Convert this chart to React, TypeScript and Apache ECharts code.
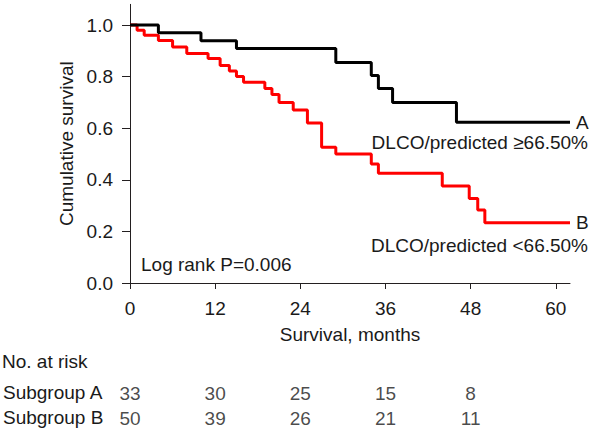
import React, { useEffect, useRef } from "react";
import * as echarts from "echarts";

// Kaplan-Meier steps: [month, cumulative survival]
const groupA: [number, number][] = [
  [0, 1.0], [4, 0.970], [10, 0.939], [15, 0.909], [29, 0.855],
  [34, 0.804], [35, 0.754], [37, 0.700], [46, 0.623], [62, 0.623],
];
const groupB: [number, number][] = [
  [0, 1.0], [1, 0.98], [2, 0.96], [4, 0.94], [6, 0.915], [8, 0.89],
  [11, 0.87], [12.7, 0.843], [14, 0.822], [15, 0.80], [16, 0.778],
  [19, 0.754], [20, 0.731], [21, 0.70], [23, 0.671], [25, 0.62],
  [27, 0.526], [29, 0.50], [34, 0.461], [35, 0.425], [44, 0.376],
  [47.8, 0.328], [49, 0.283], [50, 0.234], [62, 0.234],
];
const xTicks = [0, 12, 24, 36, 48, 60];
const yTicks = [0, 0.2, 0.4, 0.6, 0.8, 1.0];
const riskMonths = [0, 12, 24, 36, 48];
const riskA = [33, 30, 25, 15, 8];
const riskB = [50, 39, 26, 21, 11];

const FONT = "'Liberation Sans', Arial, Helvetica, sans-serif";
const TXT = "#1a1a1a";
const FS = 19;

export default function App() {
  const ref = useRef<HTMLDivElement>(null);
  useEffect(() => {
    if (!ref.current) return;
    const chart = echarts.init(ref.current, undefined, { renderer: "svg" });
    const riskData: any[] = [];
    riskMonths.forEach((m, i) => {
      riskData.push([m, "A", riskA[i]]);
      riskData.push([m, "B", riskB[i]]);
    });
    chart.setOption({
      animation: false,
      backgroundColor: "#ffffff",
      textStyle: { fontFamily: FONT },
      grid: [
        { left: 130, right: 27, top: 283 - 1.08 * 258, bottom: 149 },
        { left: 130, right: 27, top: 381, height: 50 },
      ],
      xAxis: [
        {
          gridIndex: 0,
          type: "value",
          min: 0,
          max: 62,
          name: "Survival, months",
          nameLocation: "middle",
          nameGap: 42,
          nameTextStyle: { fontSize: FS, color: TXT, fontFamily: FONT },
          axisLine: { show: true, lineStyle: { color: "#231f20", width: 1 } },
          axisTick: { show: true, length: 6, customValues: xTicks, lineStyle: { color: "#231f20" } },
          axisLabel: { customValues: xTicks, fontSize: FS, color: TXT, margin: 16, fontFamily: FONT },
          splitLine: { show: false },
        },
        {
          gridIndex: 1,
          type: "value",
          min: 0,
          max: 62,
          show: false,
        },
      ],
      yAxis: [
        {
          gridIndex: 0,
          type: "value",
          min: 0,
          max: 1.08,
          name: "Cumulative survival",
          nameLocation: "middle",
          nameGap: 52,
          nameRotate: 90,
          nameTextStyle: { fontSize: FS, color: TXT, fontFamily: FONT },
          axisLine: { show: true, lineStyle: { color: "#231f20", width: 1 } },
          axisTick: { show: true, length: 8, customValues: yTicks, lineStyle: { color: "#231f20" } },
          axisLabel: {
            customValues: yTicks,
            fontSize: FS,
            color: TXT,
            margin: 17,
            fontFamily: FONT,
            formatter: (v: number) => v.toFixed(1),
          },
          splitLine: { show: false },
        },
        {
          gridIndex: 1,
          type: "category",
          data: ["B", "A"],
          show: false,
        },
      ],
      series: [
        {
          type: "line",
          xAxisIndex: 0,
          yAxisIndex: 0,
          step: "end",
          data: groupB,
          symbol: "none",
          lineStyle: { color: "#ff0000", width: 3 },
          endLabel: {
            show: true,
            formatter: "B",
            fontSize: FS,
            lineHeight: 19,
            color: TXT,
            distance: 6,
            fontFamily: FONT,
          },
        },
        {
          type: "line",
          xAxisIndex: 0,
          yAxisIndex: 0,
          step: "end",
          data: groupA,
          symbol: "none",
          lineStyle: { color: "#000000", width: 3 },
          endLabel: {
            show: true,
            formatter: "A",
            fontSize: FS,
            lineHeight: 19,
            color: TXT,
            distance: 6,
            fontFamily: FONT,
          },
        },
        {
          type: "scatter",
          xAxisIndex: 1,
          yAxisIndex: 1,
          data: riskData,
          symbolSize: 1,
          itemStyle: { color: "rgba(0,0,0,0)" },
          label: {
            show: true,
            position: "inside",
            formatter: (p: any) => String(p.value[2]),
            fontSize: FS,
            color: TXT,
            fontFamily: FONT,
          },
        },
      ],
      graphic: [
        {
          type: "text",
          right: 9,
          top: 133,
          style: { text: "DLCO/predicted \u226566.50%", fontSize: FS, lineHeight: 19, fill: TXT, fontFamily: FONT },
        },
        {
          type: "text",
          right: 9,
          top: 236,
          style: { text: "DLCO/predicted <66.50%", fontSize: FS, lineHeight: 19, fill: TXT, fontFamily: FONT },
        },
        {
          type: "text",
          left: 141,
          top: 255,
          style: { text: "Log rank P=0.006", fontSize: FS, lineHeight: 19, fill: TXT, fontFamily: FONT },
        },
        {
          type: "text",
          left: 2,
          top: 352,
          style: { text: "No. at risk", fontSize: FS, lineHeight: 19, fill: TXT, fontFamily: FONT },
        },
        {
          type: "text",
          left: 3,
          top: 383,
          style: { text: "Subgroup A", fontSize: FS, lineHeight: 19, fill: TXT, fontFamily: FONT },
        },
        {
          type: "text",
          left: 3,
          top: 408,
          style: { text: "Subgroup B", fontSize: FS, lineHeight: 19, fill: TXT, fontFamily: FONT },
        },
      ],
    });
    return () => chart.dispose();
  }, []);
  return (
    <div
      ref={ref}
      style={{ position: "absolute", left: 0, top: 0, width: 597, height: 432 }}
    />
  );
}
